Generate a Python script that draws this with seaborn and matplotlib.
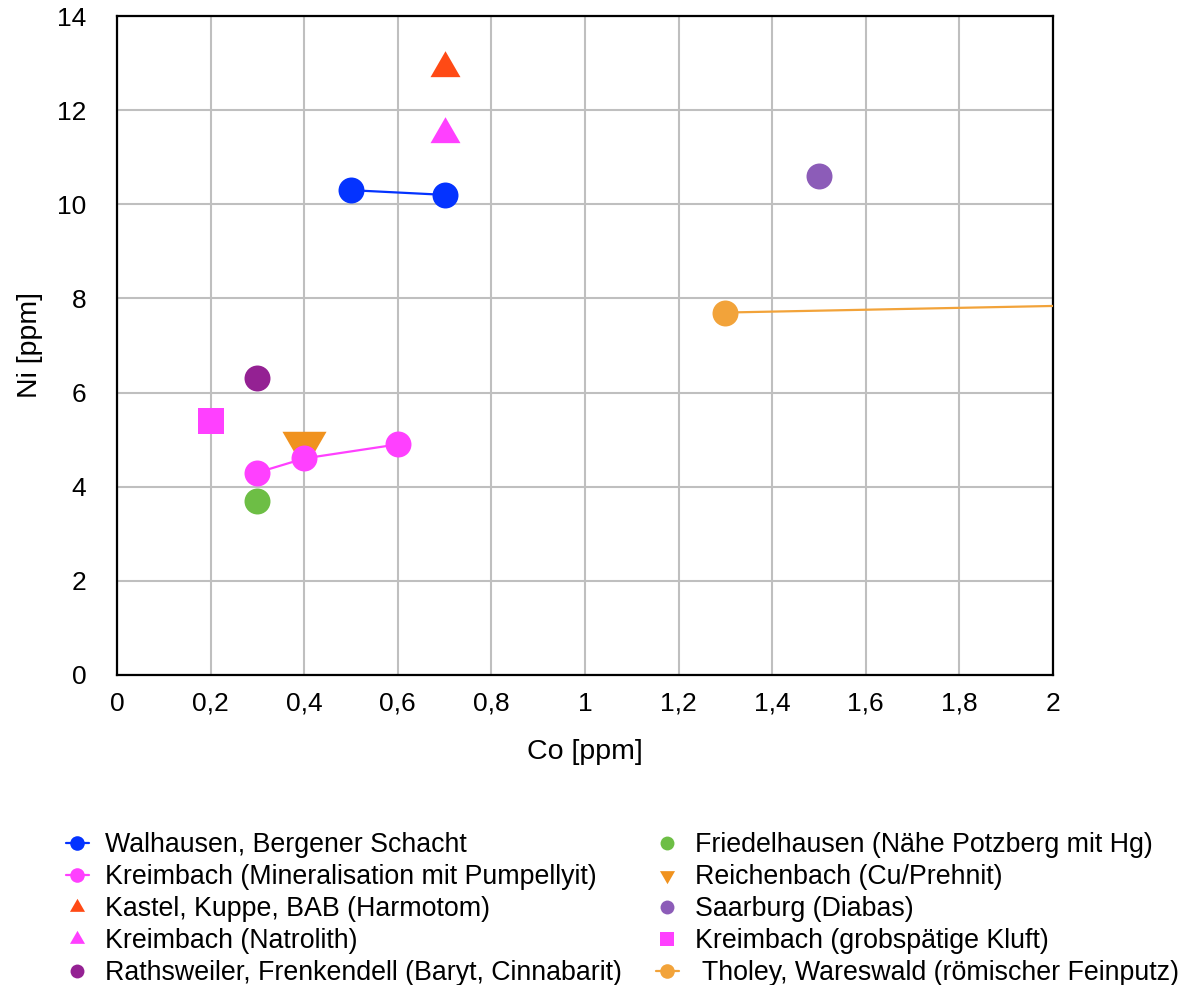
import matplotlib
matplotlib.use("Agg")
import matplotlib.pyplot as plt
from matplotlib.lines import Line2D
import seaborn as sns

# data (Co [ppm] vs Ni [ppm])
labels = [
    "Walhausen, Bergener Schacht",
    "Kreimbach (Mineralisation mit Pumpellyit)",
    "Kastel, Kuppe, BAB (Harmotom)",
    "Kreimbach (Natrolith)",
    "Rathsweiler, Frenkendell (Baryt, Cinnabarit)",
    "Friedelhausen (Nähe Potzberg mit Hg)",
    "Reichenbach (Cu/Prehnit)",
    "Saarburg (Diabas)",
    "Kreimbach (grobspätige Kluft)",
    " Tholey, Wareswald (römischer Feinputz)",
]
co_values = [
    [0.5, 0.7],
    [0.3, 0.4, 0.6],
    [0.7],
    [0.7],
    [0.3],
    [0.3],
    [0.4],
    [1.5],
    [0.2],
    [1.3, 3.0],
]
ni_values = [
    [10.3, 10.2],
    [4.3, 4.6, 4.9],
    [12.9],
    [11.5],
    [6.3],
    [3.7],
    [4.9],
    [10.6],
    [5.4],
    [7.7, 8.04],
]
colors = ["#0433FF", "#FF40FF", "#FF4A15", "#FF40FF", "#942193",
          "#6DBE45", "#F0921E", "#8C5CB8", "#FF40FF", "#F2A33A"]

x_ticks = [0, 0.2, 0.4, 0.6, 0.8, 1, 1.2, 1.4, 1.6, 1.8, 2]
x_tick_labels = ["0", "0,2", "0,4", "0,6", "0,8", "1", "1,2", "1,4", "1,6", "1,8", "2"]
y_ticks = [0, 2, 4, 6, 8, 10, 12, 14]

# equilateral triangles centred on their centroid
tri_up = [(0, 0.577), (-0.5, -0.289), (0.5, -0.289)]
tri_down = [(0, -0.577), (-0.5, 0.289), (0.5, 0.289)]

markers = ["o", "o", tri_up, tri_up, "o", "o", tri_down, "o", "s", "o"]
sizes = [18.7, 18.7, 24.9, 24.9, 18.7, 18.7, 36.6, 18.7, 18.7, 18.7]
legend_sizes = [10.5, 10.5, 12.5, 12.5, 10, 10, 12.5, 10, 10, 10.5]
has_line = [True, True, False, False, False, False, False, False, False, True]
zorders = [4, 5, 3, 3, 3, 3, 3, 3, 3, 3]

sns.set_theme(style="white")
plt.rcParams["font.family"] = ["Liberation Sans", "DejaVu Sans"]
plt.rcParams["text.color"] = "black"
plt.rcParams["axes.labelcolor"] = "black"
plt.rcParams["xtick.color"] = "black"
plt.rcParams["ytick.color"] = "black"

fig = plt.figure(figsize=(11.79, 9.85), dpi=100)
ax = fig.add_axes([117 / 1179, 1 - 675 / 985, (1053 - 117) / 1179, (675 - 16) / 985])

for i in range(len(labels)):
    sns.lineplot(
        x=co_values[i], y=ni_values[i], ax=ax, color=colors[i],
        marker=markers[i], markersize=sizes[i], markeredgewidth=0,
        linestyle="-" if has_line[i] else "none", linewidth=1.6,
        sort=False, legend=False, zorder=zorders[i],
    )

ax.set_xlim(0, 2)
ax.set_ylim(0, 14)
ax.set_xticks(x_ticks)
ax.set_xticklabels(x_tick_labels)
ax.set_yticks(y_ticks)
ax.tick_params(labelsize=19, length=0)
ax.tick_params(axis="x", pad=12)
ax.tick_params(axis="y", pad=22)
ax.grid(True, color="#BFBFBF", linewidth=1.5)
ax.set_axisbelow(True)
for spine in ax.spines.values():
    spine.set_color("black")
    spine.set_linewidth(1.6)
ax.set_xlabel("Co [ppm]", fontsize=20.5, labelpad=17)
ax.set_ylabel("Ni [ppm]", fontsize=20.5, labelpad=10)

handles = []
for i in range(len(labels)):
    handles.append(Line2D([0], [0], color=colors[i], marker=markers[i],
                          markersize=legend_sizes[i], markeredgewidth=0,
                          linestyle="-" if has_line[i] else "none", linewidth=1.6))

fig.legend(handles, labels, loc="upper left", bbox_to_anchor=(66 / 1179, 1 - 832 / 985),
           ncol=2, frameon=False, fontsize=19.3, handlelength=0.85,
           handletextpad=0.6, labelspacing=0.225, columnspacing=1.27,
           borderpad=0, borderaxespad=0)

fig.savefig("out.png", dpi=100)
